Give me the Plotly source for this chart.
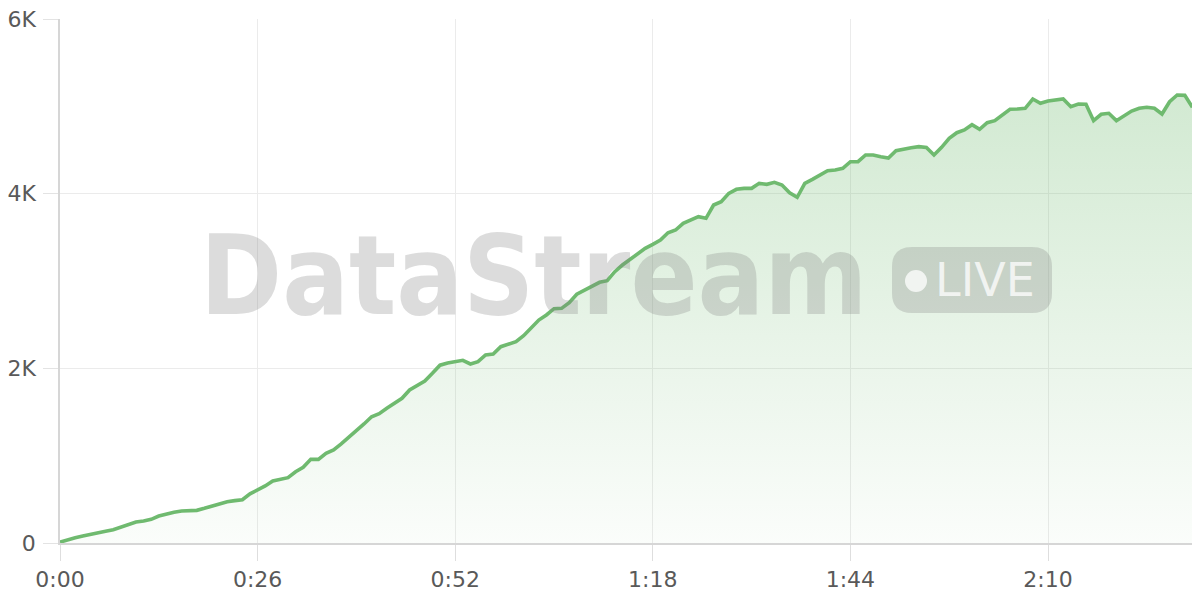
import plotly.graph_objects as go

seconds = list(range(150))
viewers = [
    10, 40, 60, 80, 95, 115, 134, 153, 180, 206,
    240, 252, 271, 309, 332, 351, 366, 366, 374, 397,
    420, 450, 473, 485, 496, 563, 607, 653, 710, 729,
    748, 816, 867, 958, 958, 1027, 1065, 1134, 1206, 1282,
    1363, 1446, 1481, 1542, 1600, 1657, 1752, 1798, 1855, 1943,
    2036, 2062, 2076, 2092, 2050, 2076, 2153, 2164, 2248, 2275,
    2305, 2374, 2458, 2553, 2611, 2683, 2687, 2752, 2848, 2897,
    2935, 2985, 3004, 3107, 3183, 3250, 3317, 3374, 3420, 3469,
    3553, 3584, 3660, 3698, 3736, 3718, 3870, 3908, 4004, 4050,
    4061, 4061, 4118, 4107, 4130, 4099, 4011, 3958, 4118, 4164,
    4214, 4262, 4271, 4290, 4366, 4366, 4443, 4443, 4423, 4408,
    4492, 4511, 4526, 4538, 4530, 4443, 4530, 4634, 4698, 4729,
    4790, 4737, 4813, 4836, 4895, 4966, 4970, 4977, 5084, 5035,
    5061, 5073, 5084, 4996, 5027, 5023, 4836, 4909, 4920, 4836,
    4889, 4946, 4977, 4989, 4977, 4912, 5053, 5130, 5126, 4989,
]
x_tick_vals = [0, 26, 52, 78, 104, 130]
x_tick_labels = ["0:00", "0:26", "0:52", "1:18", "1:44", "2:10"]
y_tick_vals = [0, 2000, 4000, 6000]
y_tick_labels = ["0", "2K", "4K", "6K"]

# the page body has an 8px default margin: compensate so the plot area sits at (60..1200, 19..543)
OFF = 8
W, H = 1200 - OFF, 600 - OFF
ML, MR, MT, MB = 60 - OFF, 0, 19 - OFF, 57
PW, PH = W - ML - MR, H - MT - MB


def px(x):
    return (x - OFF - ML) / PW


def py(y):
    return (H - MB - (y - OFF)) / PH


def rounded_rect(x0, y0, x1, y1, r):
    rx, ry = r / PW, r / PH
    a, b, c, d = px(x0), py(y1), px(x1), py(y0)  # left, bottom, right, top (paper)
    return (
        f"M {a+rx},{b} L {c-rx},{b} Q {c},{b} {c},{b+ry} "
        f"L {c},{d-ry} Q {c},{d} {c-rx},{d} L {a+rx},{d} "
        f"Q {a},{d} {a},{d-ry} L {a},{b+ry} Q {a},{b} {a+rx},{b} Z"
    )


green = "rgb(111,186,111)"

fig = go.Figure()
fig.add_trace(
    go.Scatter(
        x=seconds,
        y=viewers,
        mode="lines",
        line=dict(color=green, width=3.6),
        fill="tozeroy",
        fillgradient=dict(
            type="vertical",
            start=0,
            stop=6000,
            colorscale=[[0, "rgba(111,186,111,0.03)"], [1, "rgba(111,186,111,0.36)"]],
        ),
        hoverinfo="skip",
        showlegend=False,
    )
)

wm = "rgba(125,125,125,0.27)"
shapes = [
    dict(type="path", xref="paper", yref="paper", path=rounded_rect(892, 247, 1052, 313, 20),
         fillcolor=wm, line=dict(width=0), layer="above"),
    dict(type="circle", xref="paper", yref="paper",
         x0=px(905), x1=px(927), y0=py(292), y1=py(270),
         fillcolor="rgba(255,255,255,0.75)", line=dict(width=0), layer="above"),
]

annotations = [
    dict(text="<b>DataStream</b>", xref="paper", yref="paper", x=px(533), y=py(276),
         xanchor="center", yanchor="middle", showarrow=False,
         font=dict(family="DejaVu Sans Condensed, Open Sans", size=110, color=wm)),
    dict(text="LIVE", xref="paper", yref="paper", x=px(933), y=py(280),
         xanchor="left", yanchor="middle", showarrow=False,
         font=dict(family="DejaVu Sans", size=46, color="rgba(255,255,255,0.75)")),
]

tickfont = dict(family="DejaVu Sans", size=22, color="#595959")

fig.update_layout(
    width=W,
    height=H,
    margin=dict(l=ML, r=MR, t=MT, b=MB),
    paper_bgcolor="white",
    plot_bgcolor="white",
    shapes=shapes,
    annotations=annotations,
    xaxis=dict(
        range=[0, 150],
        tickvals=x_tick_vals,
        ticktext=x_tick_labels,
        showgrid=True,
        gridcolor="#ebebeb",
        gridwidth=1,
        ticks="outside",
        ticklen=16,
        tickcolor="#dedede",
        tickfont=tickfont,
        showline=True,
        linecolor="#d6d6d6",
        linewidth=1.5,
        zeroline=False,
        fixedrange=True,
        automargin=False,
        ticklabeloverflow="allow",
    ),
    yaxis=dict(
        range=[0, 6000],
        tickvals=y_tick_vals,
        ticktext=y_tick_labels,
        showgrid=True,
        gridcolor="#ebebeb",
        gridwidth=1,
        ticks="outside",
        ticklen=15,
        tickcolor="#e3e3e3",
        tickfont=tickfont,
        ticklabelstandoff=3,
        ticklabeloverflow="allow",
        showline=True,
        linecolor="#d6d6d6",
        linewidth=1.5,
        zeroline=False,
        fixedrange=True,
        automargin=False,
    ),
)

fig.write_html("out.html")
